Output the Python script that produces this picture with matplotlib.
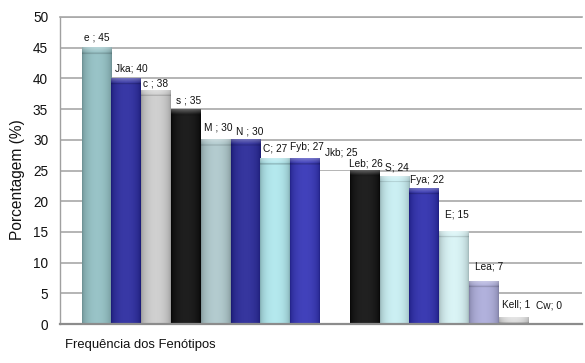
import numpy as np
import matplotlib
matplotlib.use("Agg")
import matplotlib.pyplot as plt
from matplotlib import font_manager as fm
from matplotlib.colors import to_rgb

# ---- data ----
phenotypes = ["e", "Jka", "c", "s", "M", "N", "C", "Fyb", "Jkb", "Leb", "S", "Fya", "E", "Lea", "Kell", "Cw"]
bar_values = [45, 40, 38, 35, 30, 30, 27, 27, 25, 25, 24, 22, 15, 7, 1, 0]
label_texts = ["e ; 45", "Jka; 40", "c ; 38", "s ; 35", "M ; 30", "N ; 30", "C; 27", "Fyb; 27",
               "Jkb; 25", "Leb; 26", "S; 24", "Fya; 22", "E; 15", "Lea; 7", "Kell; 1", "Cw; 0"]
y_ticks = [0, 5, 10, 15, 20, 25, 30, 35, 40, 45, 50]

# ---- styles ----
bar_colors = ["#8ebdc1", "#23239c", "#cbcbcb", "#060606", "#abc6ca", "#202094", "#ace6ec", "#2d2db4",
              "#ffffff", "#080808", "#c6eef2", "#2626aa", "#d6f3f5", "#a9a9d9", "#d8d8d8", "#ffffff"]
# label offsets in pixels (dx, dy above bar top)
label_offsets = [(0, 10), (5, 10), (-1, 7), (3, 9), (3, 12), (4, 8), (0, 10), (2, 11),
                 (6, 18), (1, 7), (2, 9), (3, 9), (2.5, 17), (5.5, 15), (2, 13), (5, 19)]

available = {f.name for f in fm.fontManager.ttflist}
narrow = "Liberation Sans Narrow" if "Liberation Sans Narrow" in available else "Liberation Sans"
regular = "Liberation Sans"

W, H = 585, 363
fig = plt.figure(figsize=(W / 100, H / 100), dpi=100)
ax = fig.add_axes([60 / W, 1 - 324 / H, 522 / W, 307 / H])

x = np.arange(len(phenotypes))
bars = ax.bar(x, bar_values, width=1.0, color=bar_colors, zorder=2, linewidth=0)

white = np.array([1.0, 1.0, 1.0])
for rect, col in zip(bars, bar_colors):
    h = rect.get_height()
    base = np.array(to_rgb(col))
    if h <= 0 or base.min() > 0.99:
        continue
    nx, ny = 60, 200
    xs = np.linspace(0, 1, nx)
    ys = np.linspace(0, h, ny)
    prof = np.sin(np.pi * xs) ** 0.5
    img = np.zeros((ny, nx, 3))
    for j, yv in enumerate(ys):
        row = base[None, :] * (0.74 + 0.26 * prof[:, None])
        row = row + (white - row) * (0.10 * prof[:, None])
        t = (h - yv) / 0.95
        if t < 1:
            if t < 0.8:
                row = row + (white - row) * (0.28 * (1 - t / 0.8))
            else:
                row = row * 0.82
        img[j] = row
    img = np.clip(img, 0, 1)
    x0 = rect.get_x()
    ax.imshow(img, extent=(x0, x0 + rect.get_width(), 0, h), origin="lower",
              aspect="auto", interpolation="bilinear", zorder=2.1)

px2pt = 72 / 100
for rect, txt, (dx, dy) in zip(bars, label_texts, label_offsets):
    cx = rect.get_x() + rect.get_width() / 2
    ax.annotate(txt, (cx, rect.get_height()), xytext=(dx * px2pt, dy * px2pt),
                textcoords="offset points", ha="center", va="center",
                fontsize=7.3, family=narrow, color="#111111", zorder=5)

ax.set_xlim(-1.225, 16.29)
ax.set_ylim(0, 50)
ax.set_yticks(y_ticks)
ax.set_yticklabels([str(v) for v in y_ticks], family=regular, fontsize=9.8, color="#111111")
ax.set_xticks([])
ax.tick_params(axis="y", length=0, pad=8.5)
ax.yaxis.grid(True, color="#a8a8a8", linewidth=1.2, zorder=0)
ax.set_axisbelow(True)
ax.spines["right"].set_visible(False)
ax.spines["top"].set_color("#a8a8a8")
ax.spines["top"].set_linewidth(1.2)
ax.spines["left"].set_color("#a0a0a0")
ax.spines["left"].set_linewidth(1.0)
ax.spines["bottom"].set_color("#8c8c8c")
ax.spines["bottom"].set_linewidth(1.6)

fig.text(18 / W, 1 - 180 / H, "Porcentagem (%)", rotation=90, ha="center", va="center",
         family=regular, fontsize=11.2, color="#111111")
fig.text(65 / W, 1 - 345 / H, "Frequência dos Fenótipos", ha="left", va="center",
         family=narrow, fontsize=9.4, color="#111111")

fig.savefig("out.png", dpi=100)
